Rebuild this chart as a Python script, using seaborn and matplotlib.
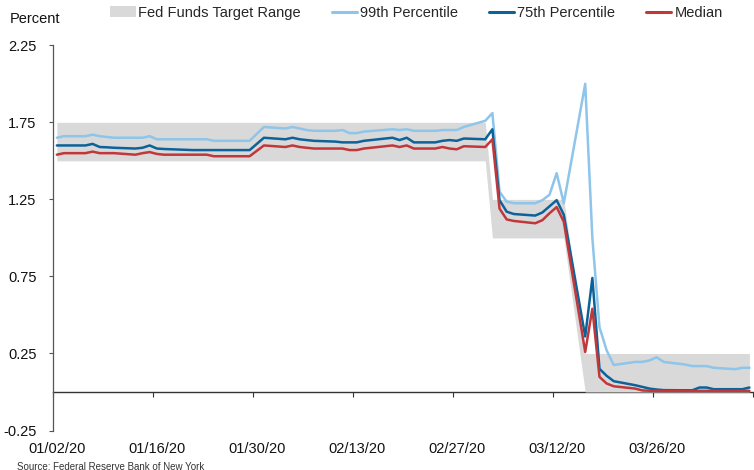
import numpy as np
import pandas as pd
import matplotlib
matplotlib.use("Agg")
import matplotlib.pyplot as plt
import matplotlib.dates as mdates
from matplotlib.patches import Patch
from matplotlib.lines import Line2D
import seaborn as sns

# trading days, Jan 2 - Apr 8 2020 (no data on MLK day / Presidents day)
dates = pd.bdate_range("2020-01-02", "2020-04-08").drop(pd.to_datetime(["2020-01-20", "2020-02-17"]))

# percentiles of the fed funds distribution (percent)
p99 = [1.65, 1.66, 1.66, 1.67, 1.66, 1.655, 1.65, 1.65, 1.65, 1.66, 1.64, 1.64, 1.64, 1.64, 1.64, 1.63, 1.63, 1.63, 1.63, 1.675, 1.72,
       1.71, 1.72, 1.71, 1.70, 1.695, 1.695, 1.70, 1.68, 1.68, 1.69, 1.705, 1.70, 1.705, 1.695, 1.695, 1.70, 1.70, 1.70, 1.72,
       1.76, 1.81, 1.30, 1.235, 1.225, 1.225, 1.245, 1.28, 1.42, 1.225, 2.00, 1.00, 0.42, 0.27, 0.175, 0.195, 0.195, 0.205, 0.225, 0.195, 0.178, 0.168,
       0.168, 0.168, 0.157, 0.148, 0.157, 0.157]
p75 = [1.60, 1.60, 1.60, 1.61, 1.59, 1.588, 1.585, 1.58, 1.585, 1.60, 1.58, 1.577, 1.57, 1.57, 1.57, 1.57, 1.57, 1.57, 1.57, 1.61, 1.65,
       1.64, 1.65, 1.64, 1.635, 1.63, 1.625, 1.62, 1.62, 1.62, 1.63, 1.65, 1.635, 1.65, 1.62, 1.62, 1.63, 1.635, 1.63, 1.645,
       1.64, 1.705, 1.245, 1.17, 1.155, 1.145, 1.165, 1.205, 1.245, 1.15, 0.36, 0.74, 0.15, 0.105, 0.07, 0.044, 0.033, 0.022, 0.016, 0.012, 0.011, 0.011,
       0.029, 0.029, 0.018, 0.018, 0.018, 0.029]
median = [1.54, 1.55, 1.55, 1.56, 1.55, 1.55, 1.55, 1.54, 1.55, 1.557, 1.545, 1.54, 1.54, 1.54, 1.54, 1.53, 1.53, 1.53, 1.53, 1.565, 1.60,
          1.59, 1.60, 1.59, 1.585, 1.58, 1.58, 1.58, 1.57, 1.57, 1.58, 1.60, 1.59, 1.60, 1.58, 1.58, 1.59, 1.58, 1.575, 1.595,
          1.59, 1.64, 1.19, 1.12, 1.11, 1.095, 1.115, 1.16, 1.20, 1.105, 0.26, 0.54, 0.098, 0.055, 0.037, 0.022, 0.01, 0.008, 0.007, 0.007, 0.007, 0.007,
          0.007, 0.007, 0.007, 0.007, 0.007, 0.007]

# fed funds target range, by effective date
range_start = pd.to_datetime(["2020-01-02", "2020-03-03", "2020-03-16"])
range_low = [1.50, 1.00, 0.00]
range_high = [1.75, 1.25, 0.25]

tick_dates = pd.to_datetime(["2020-01-02", "2020-01-16", "2020-01-30", "2020-02-13",
                             "2020-02-27", "2020-03-12", "2020-03-26"])
y_ticks = [-0.25, 0.25, 0.75, 1.25, 1.75, 2.25]

series_names = ["99th Percentile", "75th Percentile", "Median"]
colors = {"99th Percentile": "#8ec5ea", "75th Percentile": "#0c6299", "Median": "#c1373a"}
band_color = "#d9d9d9"

df = pd.DataFrame({"date": dates, "99th Percentile": p99, "75th Percentile": p75, "Median": median})
long = df.melt(id_vars="date", var_name="series", value_name="rate")
band = pd.DataFrame({"low": range_low, "high": range_high}, index=range_start).reindex(dates, method="ffill")

sns.set_theme(style="white")
plt.rcParams["font.family"] = ["Liberation Sans", "DejaVu Sans"]
plt.rcParams["axes.unicode_minus"] = False

fig = plt.figure(figsize=(7.54, 4.70), dpi=100)
ax = fig.add_axes([53.3 / 754, 39.5 / 470, 699.7 / 754, 385.2 / 470])

ax.fill_between(band.index, band["low"], band["high"], color=band_color, lw=0, zorder=1)
sns.lineplot(data=long, x="date", y="rate", hue="series", hue_order=series_names,
             palette=colors, lw=1.8, legend=False, ax=ax, zorder=3)

half_day = pd.Timedelta(hours=12)
ax.set_xlim(dates[0] - half_day, dates[-1] + half_day)
ax.set_ylim(-0.25, 2.25)
ax.set_yticks(y_ticks)
ax.set_yticklabels([f"{v:.2f}" for v in y_ticks], fontsize=10.5, color="#111111")
ax.set_xticks(tick_dates)
ax.set_xticklabels([d.strftime("%m/%d/%y") for d in tick_dates], fontsize=10.5, color="#111111")
ax.tick_params(axis="x", length=0, pad=8)
ax.tick_params(axis="y", length=3, width=0.8, color="#555555", pad=9, left=True)
ax.set_xlabel("")
ax.set_ylabel("")
for side in ["top", "right", "bottom"]:
    ax.spines[side].set_visible(False)
ax.spines["left"].set_color("#555555")
ax.spines["left"].set_linewidth(0.9)

# zero line with tick marks on the day boundaries
zero_pos = (0 - (-0.25)) / 2.5
sec = ax.secondary_xaxis(zero_pos)
bounds = list(tick_dates - half_day) + [dates[-1] + half_day]
sec.set_xticks(mdates.date2num(bounds))
sec.tick_params(length=3.5, width=0.8, color="#333333", labelbottom=False, labeltop=False)
sec.spines["bottom"].set_color("#333333")
sec.spines["bottom"].set_linewidth(1.0)

handles = [Patch(facecolor=band_color, edgecolor="none")] + \
          [Line2D([], [], color=colors[s], lw=2.2) for s in series_names]
labels = ["Fed Funds Target Range"] + series_names
fig.legend(handles, labels, loc="center left", bbox_to_anchor=(110 / 754, 1 - 12.7 / 470),
           ncol=4, frameon=False, fontsize=10.5, handlelength=1.75, handletextpad=0.2,
           columnspacing=2.1, borderpad=0, borderaxespad=0)

fig.text(9.5 / 754, 1 - 19 / 470, "Percent", ha="left", va="center", fontsize=10.5, color="#111111")
fig.text(17 / 754, 1 - 466.5 / 470, "Source: Federal Reserve Bank of New York", ha="left", va="center",
         fontsize=7, color="#333333")

fig.savefig("out.png", dpi=100)
